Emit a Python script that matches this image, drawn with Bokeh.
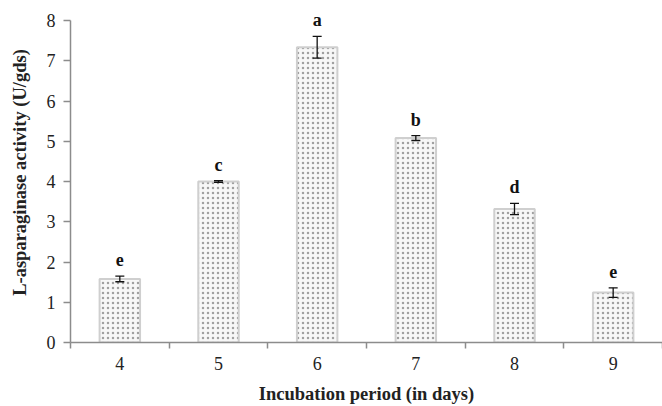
from bokeh.plotting import figure
from bokeh.models import ColumnDataSource, FixedTicker, Whisker, Range1d, LabelSet
from bokeh.embed import file_html
from bokeh.resources import INLINE
from bokeh.core.properties import value

days = [4, 5, 6, 7, 8, 9]
activity = [1.58, 4.00, 7.34, 5.08, 3.32, 1.24]
error = [0.07, 0.02, 0.27, 0.06, 0.14, 0.12]
letters = ["e", "c", "a", "b", "d", "e"]
y_ticks = [0, 1, 2, 3, 4, 5, 6, 7, 8]
x_title = "Incubation period (in days)"
y_title = "L-asparaginase activity (U/gds)"

src = ColumnDataSource(dict(
    x=days, top=activity,
    upper=[a + e for a, e in zip(activity, error)],
    lower=[a - e for a, e in zip(activity, error)],
    letter=letters,
))

serif = "Liberation Serif"

p = figure(width=662, height=406, output_backend="svg", toolbar_location=None,
           x_range=Range1d(3.5, 9.5), y_range=Range1d(0, 8.45),
           min_border_left=70, min_border_right=0, min_border_top=2, min_border_bottom=64)
p.outline_line_color = None
p.xgrid.visible = False
p.ygrid.visible = False
p.background_fill_color = "white"
p.border_fill_color = "white"

p.vbar(x="x", top="top", width=0.41, source=src,
       fill_color="#f7f7f7", line_color="#cfcfcf", line_width=2,
       hatch_pattern="dot", hatch_color="#a0a0a0", hatch_scale=5, hatch_weight=1.6)

w = Whisker(base="x", upper="upper", lower="lower", source=src,
            line_color="#111111", line_width=1.3, level="overlay")
for h in (w.upper_head, w.lower_head):
    h.size = 9
    h.line_color = "#111111"
    h.line_width = 1.3
p.add_layout(w)

labels = LabelSet(x="x", y="upper", text="letter", source=src, y_offset=10,
                  text_align="center", text_baseline="alphabetic",
                  text_font=value(serif), text_font_style="bold",
                  text_font_size="18px", text_color="#111111", level="overlay")
p.add_layout(labels)

ax = p.xaxis[0]
ax.ticker = FixedTicker(ticks=days, minor_ticks=[3.5 + i for i in range(7)])
ax.major_tick_out = 0
ax.major_tick_in = 0
ax.minor_tick_out = 6
ax.minor_tick_in = 0
ax.minor_tick_line_color = "#8c8c8c"
ax.minor_tick_line_width = 1.5
ax.axis_line_color = "#8c8c8c"
ax.axis_line_width = 1.5
ax.major_label_text_font = serif
ax.major_label_text_font_size = "18px"
ax.major_label_text_color = "#222222"
ax.major_label_standoff = 8
ax.axis_label = x_title
ax.axis_label_text_font = serif
ax.axis_label_text_font_style = "bold"
ax.axis_label_text_font_size = "18.5px"
ax.axis_label_standoff = 11
ax.axis_label_text_color = "#222222"

ay = p.yaxis[0]
ay.bounds = (0, 8)
ay.ticker = FixedTicker(ticks=y_ticks, minor_ticks=[])
ay.major_tick_out = 7
ay.major_tick_in = 0
ay.major_tick_line_color = "#8c8c8c"
ay.major_tick_line_width = 1.5
ay.axis_line_color = "#8c8c8c"
ay.axis_line_width = 1.5
ay.major_label_text_font = serif
ay.major_label_text_font_size = "18px"
ay.major_label_text_color = "#222222"
ay.major_label_standoff = 8
ay.axis_label = y_title
ay.axis_label_text_font = serif
ay.axis_label_text_font_style = "bold"
ay.axis_label_text_font_size = "18.5px"
ay.axis_label_standoff = 14
ay.axis_label_text_color = "#222222"

open("out.html", "w").write(file_html(p, INLINE))
